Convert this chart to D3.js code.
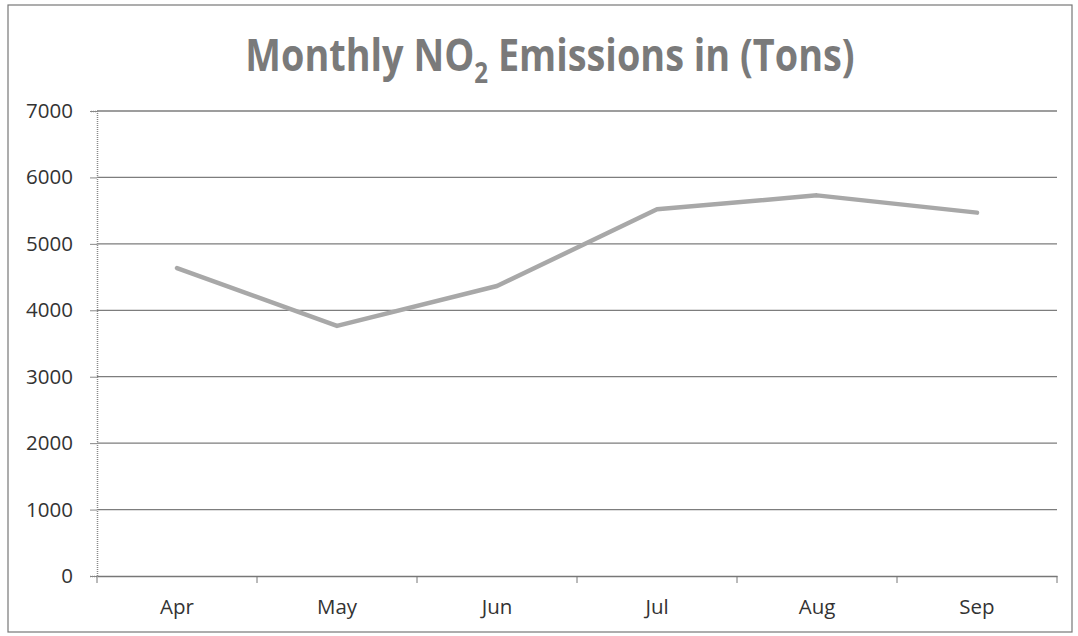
<!DOCTYPE html>
<html>
<head>
<meta charset="utf-8">
<script src="https://cdn.jsdelivr.net/npm/d3@7"></script>
<style>
  body { margin: 0; background: #fff; }
  text { font-family: "Open Sans", "Liberation Sans", sans-serif; }
</style>
</head>
<body>
<div id="chart"></div>
<script>
// data
const months = ["Apr", "May", "Jun", "Jul", "Aug", "Sep"];
const emissions = [4635, 3765, 4365, 5520, 5730, 5470];
const yTicks = [0, 1000, 2000, 3000, 4000, 5000, 6000, 7000];

const w = 1078, h = 636;
const margin = { top: 111, right: 21, bottom: 60, left: 97 };

const svg = d3.select("#chart").append("svg")
  .attr("width", w)
  .attr("height", h);

// outer frame
svg.append("rect")
  .attr("x", 8).attr("y", 5)
  .attr("width", 1064).attr("height", 627)
  .attr("fill", "#fff")
  .attr("stroke", "#777")
  .attr("stroke-width", 1.2);

const x = d3.scaleBand()
  .domain(months)
  .range([margin.left, w - margin.right]);

const y = d3.scaleLinear()
  .domain([0, 7000])
  .range([h - margin.bottom, margin.top]);

// gridlines
svg.append("g")
  .selectAll("line")
  .data(yTicks.filter(d => d > 0))
  .join("line")
  .attr("x1", margin.left).attr("x2", w - margin.right)
  .attr("y1", d => y(d)).attr("y2", d => y(d))
  .attr("stroke", "#7d7d7d")
  .attr("stroke-width", 1.3);

// y axis
const yAxis = svg.append("g")
  .attr("transform", `translate(${margin.left},0)`)
  .call(d3.axisLeft(y).tickValues(yTicks).tickSize(7).tickPadding(17).tickFormat(d3.format("d")));
yAxis.select(".domain").attr("stroke", "#888").attr("stroke-dasharray", "1,1").attr("stroke-width", 1.5);
yAxis.selectAll(".tick line").attr("stroke", "#888");
yAxis.selectAll("text").attr("font-size", 20.5).attr("fill", "#333");

// x axis
const xAxis = svg.append("g")
  .attr("transform", `translate(0,${y(0)})`)
  .call(d3.axisBottom(x).tickSize(0).tickPadding(23));
xAxis.select(".domain").attr("stroke", "#777").attr("stroke-width", 1.3);
xAxis.selectAll("text").attr("font-size", 20.5).attr("fill", "#333");

// x tick marks at band boundaries
const bounds = months.map(m => x(m)).concat([x(months[months.length - 1]) + x.bandwidth()]);
svg.append("g")
  .selectAll("line")
  .data(bounds)
  .join("line")
  .attr("x1", d => d).attr("x2", d => d)
  .attr("y1", y(0)).attr("y2", y(0) + 7)
  .attr("stroke", "#777");

// line
const line = d3.line()
  .x((d, i) => x(months[i]) + x.bandwidth() / 2)
  .y(d => y(d));

svg.append("path")
  .datum(emissions)
  .attr("fill", "none")
  .attr("stroke", "#a8a8a8")
  .attr("stroke-width", 4.5)
  .attr("stroke-linejoin", "round")
  .attr("stroke-linecap", "round")
  .attr("d", line);

// title (condensed a bit to mimic Calibri)
const title = svg.append("text")
  .attr("transform", "translate(550,71) scale(0.86,1)")
  .attr("text-anchor", "middle")
  .attr("font-size", 44)
  .attr("font-weight", "bold")
  .attr("fill", "#7a7a7a");
title.append("tspan").text("Monthly NO");
title.append("tspan").attr("font-size", 28).attr("dy", 12).text("2");
title.append("tspan").attr("dy", -12).text(" Emissions in (Tons)");
</script>
</body>
</html>
